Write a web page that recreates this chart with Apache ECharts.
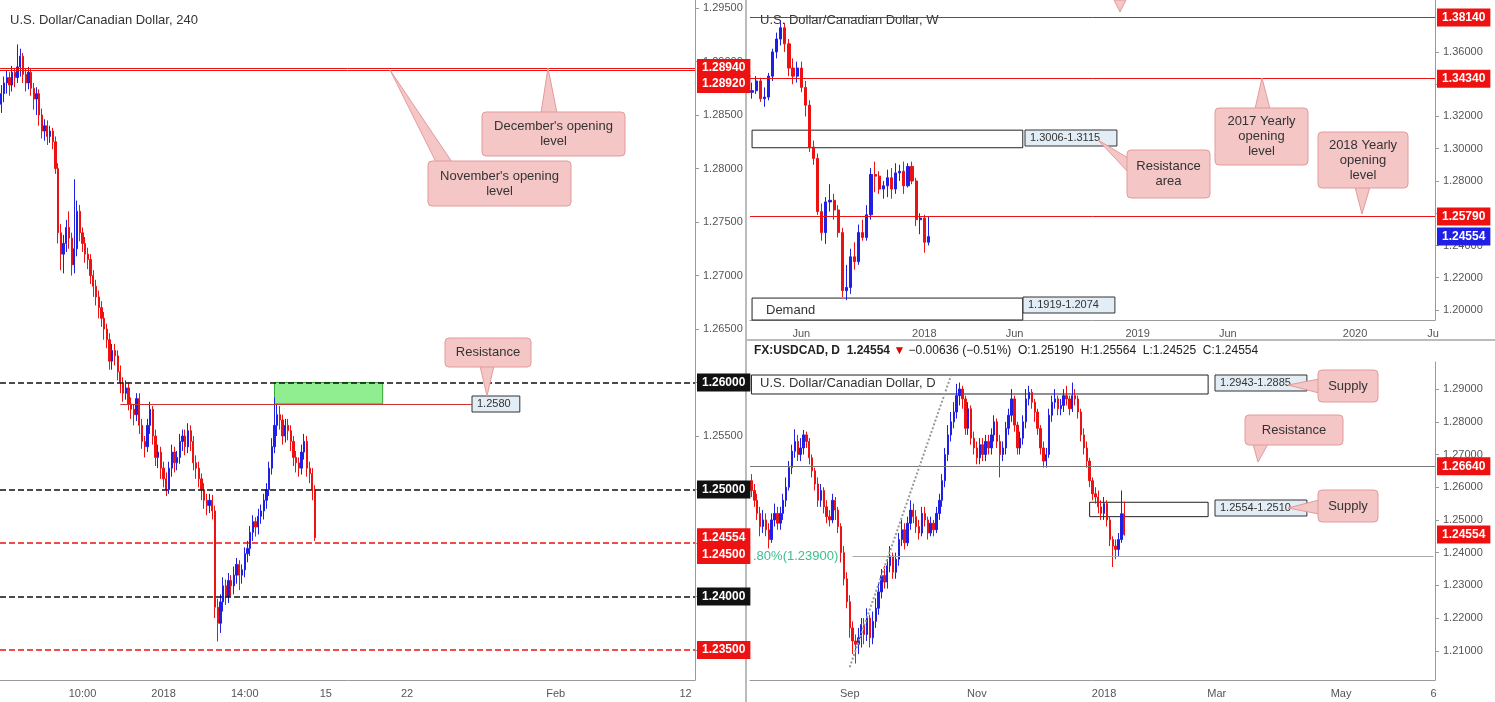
<!DOCTYPE html>
<html>
<head>
<meta charset="utf-8">
<script src="https://cdn.jsdelivr.net/npm/echarts@6/dist/echarts.min.js"></script>
<style>
  html, body { margin: 0; padding: 0; background: #fff; }
  #chart { width: 1495px; height: 702px; }
</style>
</head>
<body>
<div id="chart"></div>
<script>
// 4h candles [open, close, low, high], Dec 18 2017 .. Jan 12 2018
var h4Candles = [
  [1.2860,1.2870,1.2852,1.2878],[1.2870,1.2880,1.2862,1.2886],[1.2880,1.2885,1.2870,1.2892],[1.2885,1.2878,1.2868,1.2890],[1.2878,1.2890,1.2872,1.2896],[1.2890,1.2885,1.2876,1.2894],
  [1.2885,1.2895,1.2880,1.2916],[1.2895,1.2905,1.2886,1.2912],[1.2905,1.2888,1.2880,1.2908],[1.2888,1.2880,1.2872,1.2893],[1.2880,1.2890,1.2874,1.2895],[1.2890,1.2875,1.2868,1.2894],
  [1.2875,1.2865,1.2855,1.2880],[1.2865,1.2870,1.2850,1.2876],[1.2870,1.2850,1.2840,1.2874],[1.2850,1.2835,1.2828,1.2856],[1.2835,1.2840,1.2826,1.2846],[1.2840,1.2830,1.2822,1.2845],
  [1.2830,1.2835,1.2824,1.2840],[1.2835,1.2825,1.2818,1.2838],[1.2825,1.2800,1.2795,1.2830],[1.2800,1.2740,1.2730,1.2805],[1.2740,1.2720,1.2705,1.2748],[1.2720,1.2730,1.2702,1.2738],
  [1.2730,1.2745,1.2722,1.2752],[1.2745,1.2735,1.2725,1.2760],[1.2735,1.2710,1.2700,1.2740],[1.2710,1.2725,1.2702,1.2790],[1.2725,1.2760,1.2718,1.2770],[1.2760,1.2740,1.2732,1.2766],
  [1.2740,1.2730,1.2722,1.2745],[1.2730,1.2720,1.2712,1.2736],[1.2720,1.2715,1.2706,1.2726],[1.2715,1.2700,1.2692,1.2720],[1.2700,1.2690,1.2680,1.2705],[1.2690,1.2680,1.2672,1.2696],
  [1.2680,1.2670,1.2660,1.2686],[1.2670,1.2660,1.2652,1.2676],[1.2660,1.2650,1.2640,1.2666],[1.2650,1.2640,1.2632,1.2655],[1.2640,1.2620,1.2612,1.2646],[1.2620,1.2630,1.2612,1.2636],
  [1.2630,1.2625,1.2616,1.2636],[1.2625,1.2610,1.2602,1.2630],[1.2610,1.2600,1.2590,1.2616],[1.2600,1.2590,1.2582,1.2605],[1.2590,1.2595,1.2584,1.2602],[1.2595,1.2580,1.2574,1.2600],
  [1.2580,1.2575,1.2566,1.2586],[1.2575,1.2570,1.2560,1.2580],[1.2570,1.2585,1.2564,1.2590],[1.2585,1.2560,1.2552,1.2590],[1.2560,1.2545,1.2538,1.2566],[1.2545,1.2540,1.2530,1.2550],
  [1.2540,1.2560,1.2535,1.2566],[1.2560,1.2575,1.2552,1.2582],[1.2575,1.2550,1.2542,1.2578],[1.2550,1.2530,1.2522,1.2556],[1.2530,1.2535,1.2520,1.2542],[1.2535,1.2520,1.2510,1.2540],
  [1.2520,1.2510,1.2502,1.2526],[1.2510,1.2500,1.2494,1.2516],[1.2500,1.2520,1.2496,1.2526],[1.2520,1.2535,1.2512,1.2542],[1.2535,1.2525,1.2516,1.2540],[1.2525,1.2530,1.2518,1.2536],
  [1.2530,1.2545,1.2524,1.2552],[1.2545,1.2550,1.2536,1.2556],[1.2550,1.2540,1.2532,1.2556],[1.2540,1.2555,1.2534,1.2562],[1.2555,1.2545,1.2536,1.2560],[1.2545,1.2525,1.2518,1.2550],
  [1.2525,1.2520,1.2510,1.2532],[1.2520,1.2510,1.2502,1.2526],[1.2510,1.2500,1.2490,1.2515],[1.2500,1.2490,1.2482,1.2506],[1.2490,1.2485,1.2476,1.2496],[1.2485,1.2490,1.2478,1.2496],
  [1.2490,1.2480,1.2472,1.2495],[1.2480,1.2390,1.2380,1.2485],[1.2390,1.2375,1.2358,1.2398],[1.2375,1.2395,1.2366,1.2402],[1.2395,1.2410,1.2386,1.2418],[1.2410,1.2400,1.2392,1.2416],
  [1.2400,1.2415,1.2394,1.2422],[1.2415,1.2410,1.2400,1.2420],[1.2410,1.2420,1.2402,1.2428],[1.2420,1.2430,1.2412,1.2436],[1.2430,1.2420,1.2406,1.2434],[1.2420,1.2425,1.2412,1.2430],
  [1.2425,1.2440,1.2418,1.2446],[1.2440,1.2445,1.2432,1.2452],[1.2445,1.2460,1.2438,1.2466],[1.2460,1.2470,1.2452,1.2476],[1.2470,1.2465,1.2456,1.2474],[1.2465,1.2475,1.2458,1.2482],
  [1.2475,1.2480,1.2468,1.2486],[1.2480,1.2490,1.2472,1.2496],[1.2490,1.2500,1.2482,1.2506],[1.2500,1.2520,1.2494,1.2526],[1.2520,1.2540,1.2514,1.2548],[1.2540,1.2560,1.2534,1.2586],
  [1.2560,1.2570,1.2550,1.2580],[1.2570,1.2565,1.2556,1.2578],[1.2565,1.2550,1.2542,1.2570],[1.2550,1.2560,1.2544,1.2566],[1.2560,1.2555,1.2546,1.2566],[1.2555,1.2545,1.2536,1.2560],
  [1.2545,1.2530,1.2522,1.2550],[1.2530,1.2525,1.2516,1.2536],[1.2525,1.2520,1.2512,1.2530],[1.2520,1.2535,1.2514,1.2542],[1.2535,1.2545,1.2528,1.2552],[1.2545,1.2520,1.2512,1.2550],
  [1.2520,1.2515,1.2506,1.2526],[1.2515,1.2500,1.2490,1.2520],[1.2500,1.2455,1.2452,1.2504]
];
var h4Count = 257;
var h4Ticks = { 30: '10:00', 60: '2018', 90: '14:00', 120: '15', 150: '22', 205: 'Feb', 253: '12' };
var h4YTicks = [1.235, 1.24, 1.245, 1.25, 1.255, 1.26, 1.265, 1.27, 1.275, 1.28, 1.285, 1.29, 1.295];

// weekly candles [open, close, low, high], from Mar 13 2017
var weekCandles = [
  [1.3350,1.3360,1.3310,1.3410],[1.3360,1.3420,1.3340,1.3450],[1.3420,1.3310,1.3290,1.3440],[1.3310,1.3320,1.3260,1.3380],
  [1.3320,1.3450,1.3300,1.3470],[1.3450,1.3600,1.3420,1.3620],[1.3600,1.3680,1.3560,1.3720],[1.3680,1.3750,1.3640,1.3793],
  [1.3750,1.3650,1.3600,1.3780],[1.3650,1.3500,1.3450,1.3680],[1.3500,1.3450,1.3400,1.3560],[1.3450,1.3500,1.3410,1.3540],
  [1.3500,1.3380,1.3350,1.3540],[1.3380,1.3270,1.3200,1.3420],[1.3270,1.3010,1.2980,1.3300],[1.3010,1.2940,1.2900,1.3050],
  [1.2940,1.2610,1.2590,1.2970],[1.2610,1.2480,1.2430,1.2660],[1.2480,1.2670,1.2410,1.2700],[1.2670,1.2680,1.2610,1.2780],
  [1.2680,1.2620,1.2560,1.2720],[1.2620,1.2480,1.2450,1.2650],[1.2480,1.2120,1.2080,1.2510],[1.2120,1.2140,1.2061,1.2280],
  [1.2140,1.2330,1.2100,1.2380],[1.2330,1.2300,1.2250,1.2420],[1.2300,1.2480,1.2280,1.2530],[1.2480,1.2450,1.2430,1.2560],
  [1.2450,1.2590,1.2430,1.2650],[1.2590,1.2840,1.2560,1.2880],[1.2840,1.2830,1.2730,1.2920],[1.2830,1.2750,1.2720,1.2860],
  [1.2750,1.2770,1.2690,1.2800],[1.2770,1.2820,1.2700,1.2870],[1.2820,1.2750,1.2690,1.2880],[1.2750,1.2850,1.2720,1.2910],
  [1.2850,1.2860,1.2800,1.2900],[1.2860,1.2770,1.2720,1.2920],[1.2770,1.2890,1.2760,1.2910],[1.2890,1.2800,1.2780,1.2920],
  [1.2800,1.2560,1.2520,1.2820],[1.2560,1.2570,1.2470,1.2600],[1.2570,1.2420,1.2355,1.2590],[1.2420,1.2455,1.2400,1.2580]
];
var weekCount = 167;
var weekTicks = { 12: 'Jun', 42: '2018', 64: 'Jun', 94: '2019', 116: 'Jun', 147: '2020', 166: 'Ju' };
var weekYTicks = [1.20, 1.22, 1.24, 1.26, 1.28, 1.30, 1.32, 1.34, 1.36];

// daily closes / highs / lows, from mid Jul 2017 to Jan 12 2018
var dayFirstOpen = 1.2620;
var dayClose = [1.2590,1.2560,1.2520,1.2480,1.2500,1.2470,1.2440,1.2500,1.2520,1.2490,1.2520,1.2560,1.2600,1.2660,1.2710,1.2740,1.2700,1.2720,1.2760,1.2740,
  1.2690,1.2650,1.2610,1.2560,1.2590,1.2540,1.2510,1.2500,1.2560,1.2530,1.2480,1.2400,1.2320,1.2250,1.2170,1.2130,1.2120,1.2140,1.2180,1.2150,
  1.2200,1.2140,1.2190,1.2230,1.2280,1.2330,1.2310,1.2360,1.2390,1.2340,1.2380,1.2440,1.2470,1.2430,1.2490,1.2530,1.2510,1.2480,1.2460,1.2520,
  1.2500,1.2460,1.2490,1.2470,1.2520,1.2560,1.2620,1.2700,1.2760,1.2800,1.2830,1.2880,1.2900,1.2870,1.2780,1.2840,1.2750,1.2720,1.2690,1.2730,
  1.2700,1.2740,1.2720,1.2760,1.2800,1.2740,1.2700,1.2720,1.2780,1.2820,1.2870,1.2790,1.2720,1.2750,1.2800,1.2870,1.2890,1.2860,1.2830,1.2780,
  1.2720,1.2680,1.2700,1.2820,1.2860,1.2870,1.2840,1.2850,1.2880,1.2870,1.2840,1.2880,1.2870,1.2830,1.2760,1.2720,1.2680,1.2620,1.2580,1.2570,
  1.2540,1.2520,1.2550,1.2500,1.2440,1.2420,1.2410,1.2440,1.2519,1.2455];
var dayHigh = [1.2640,1.2610,1.2580,1.2540,1.2530,1.2520,1.2490,1.2520,1.2550,1.2540,1.2540,1.2580,1.2630,1.2680,1.2730,1.2777,1.2760,1.2750,1.2775,1.2770,
  1.2750,1.2700,1.2660,1.2630,1.2610,1.2600,1.2560,1.2530,1.2580,1.2570,1.2540,1.2490,1.2420,1.2340,1.2270,1.2190,1.2150,1.2170,1.2200,1.2200,
  1.2230,1.2210,1.2220,1.2260,1.2310,1.2350,1.2360,1.2380,1.2420,1.2400,1.2400,1.2460,1.2500,1.2490,1.2510,1.2560,1.2550,1.2530,1.2500,1.2540,
  1.2540,1.2510,1.2510,1.2500,1.2540,1.2580,1.2640,1.2720,1.2790,1.2830,1.2860,1.2916,1.2920,1.2910,1.2880,1.2860,1.2850,1.2770,1.2740,1.2750,
  1.2750,1.2760,1.2760,1.2780,1.2820,1.2810,1.2760,1.2740,1.2800,1.2840,1.2900,1.2880,1.2800,1.2770,1.2820,1.2900,1.2910,1.2900,1.2870,1.2840,
  1.2790,1.2740,1.2720,1.2840,1.2880,1.2900,1.2880,1.2870,1.2900,1.2910,1.2880,1.2920,1.2900,1.2880,1.2840,1.2780,1.2740,1.2690,1.2630,1.2600,
  1.2590,1.2560,1.2570,1.2560,1.2510,1.2450,1.2440,1.2460,1.2590,1.2556];
var dayLow = [1.2570,1.2540,1.2500,1.2450,1.2460,1.2450,1.2413,1.2430,1.2480,1.2470,1.2470,1.2500,1.2540,1.2590,1.2640,1.2690,1.2680,1.2680,1.2700,1.2720,
  1.2670,1.2630,1.2590,1.2540,1.2540,1.2520,1.2490,1.2480,1.2490,1.2500,1.2460,1.2370,1.2300,1.2230,1.2140,1.2090,1.2061,1.2090,1.2110,1.2120,
  1.2130,1.2110,1.2120,1.2170,1.2210,1.2260,1.2290,1.2290,1.2340,1.2320,1.2320,1.2360,1.2420,1.2410,1.2420,1.2470,1.2490,1.2460,1.2440,1.2450,
  1.2480,1.2440,1.2450,1.2450,1.2460,1.2500,1.2540,1.2600,1.2680,1.2740,1.2780,1.2810,1.2850,1.2840,1.2760,1.2760,1.2730,1.2700,1.2670,1.2670,
  1.2680,1.2680,1.2700,1.2700,1.2740,1.2720,1.2630,1.2680,1.2700,1.2760,1.2800,1.2770,1.2700,1.2700,1.2730,1.2780,1.2850,1.2840,1.2800,1.2760,
  1.2700,1.2660,1.2660,1.2690,1.2800,1.2840,1.2820,1.2820,1.2830,1.2850,1.2820,1.2830,1.2850,1.2810,1.2740,1.2700,1.2660,1.2600,1.2560,1.2550,
  1.2520,1.2500,1.2500,1.2480,1.2420,1.2356,1.2380,1.2390,1.2430,1.2452];
var dayCount = 237;
var dayTicks = { 34: 'Sep', 78: 'Nov', 122: '2018', 161: 'Mar', 204: 'May', 236: '6' };
var dayYTicks = [1.21, 1.22, 1.23, 1.24, 1.25, 1.26, 1.27, 1.28, 1.29];

var UP = '#1f1fe6', DOWN = '#ee1111', FONT = 'Liberation Sans';

function cats(n) {
  var a = [];
  for (var i = 0; i < n; i++) a.push(String(i));
  return a;
}

function dailyCandles() {
  var out = [];
  for (var i = 0; i < dayClose.length; i++) {
    var o = i === 0 ? dayFirstOpen : dayClose[i - 1];
    out.push([o, dayClose[i], dayLow[i], dayHigh[i]]);
  }
  return out;
}

function xAxisFor(grid, n, ticks) {
  return {
    type: 'category', gridIndex: grid, data: cats(n), boundaryGap: true,
    axisLine: { lineStyle: { color: '#999' } },
    axisTick: { show: false },
    splitLine: { show: false },
    axisLabel: {
      color: '#555', fontFamily: FONT, fontSize: 11, margin: 8,
      interval: function (i) { return ticks[i] !== undefined; },
      formatter: function (v, i) { return ticks[i] || ''; }
    }
  };
}

function yAxisFor(grid, min, max, ticks, digits) {
  return {
    type: 'value', gridIndex: grid, position: 'right', min: min, max: max, scale: true,
    axisLine: { show: true, lineStyle: { color: '#999' } },
    axisTick: { show: true, customValues: ticks, length: 4, lineStyle: { color: '#999' } },
    splitLine: { show: false },
    axisLabel: {
      customValues: ticks, color: '#555', fontFamily: FONT, fontSize: 11, margin: 8,
      formatter: function (v) { return v.toFixed(digits); }
    }
  };
}

function level(price, text, color, bg, type, width, shift) {
  return {
    yAxis: price,
    lineStyle: { color: color, type: type || 'solid', width: width || 1 },
    label: {
      show: true, position: 'end', formatter: text, color: '#fff', backgroundColor: bg,
      padding: [3, 5], fontFamily: FONT, fontWeight: 'bold', fontSize: 12, distance: 2,
      offset: [0, shift || 0]
    }
  };
}

function callout(x, y, w, h, lines, tip, base) {
  return [
    { type: 'polygon', z: 100, shape: { points: [base[0], base[1], tip] },
      style: { fill: '#f4c6c6', stroke: '#e49a9a', lineWidth: 1 } },
    { type: 'rect', z: 101, shape: { x: x, y: y, width: w, height: h, r: 4 },
      style: { fill: '#f4c6c6', stroke: '#e49a9a', lineWidth: 1 } },
    { type: 'text', z: 102, x: x + w / 2, y: y + h / 2,
      style: { text: lines, fill: '#333', font: '13px ' + FONT, align: 'center', verticalAlign: 'middle', lineHeight: 15 } }
  ];
}

function tagBox(x, y, text) {
  return [
    { type: 'rect', z: 90, shape: { x: x, y: y - 8, width: text.length * 6.3 + 10, height: 16 },
      style: { fill: '#e3edf5', stroke: '#333', lineWidth: 1 } },
    { type: 'text', z: 91, x: x + 5, y: y,
      style: { text: text, fill: '#333', font: '11px ' + FONT, verticalAlign: 'middle' } }
  ];
}

var candleStyle = { color: UP, color0: DOWN, borderColor: UP, borderColor0: DOWN, borderWidth: 1 };

var graphics = [].concat(
  [
    { type: 'line', shape: { x1: 746, y1: 0, x2: 746, y2: 702 }, style: { stroke: '#bbb', lineWidth: 2 } },
    { type: 'line', shape: { x1: 746, y1: 340, x2: 1495, y2: 340 }, style: { stroke: '#bbb', lineWidth: 2 } },
    { type: 'rect', shape: { x: 748, y: 341, width: 747, height: 19 }, style: { fill: '#fff' } },
    { type: 'text', x: 10, y: 20, style: { text: 'U.S. Dollar/Canadian Dollar, 240', fill: '#333', font: '13px ' + FONT, verticalAlign: 'middle' } },
    { type: 'text', x: 760, y: 20, style: { text: 'U.S. Dollar/Canadian Dollar, W', fill: '#333', font: '13px ' + FONT, verticalAlign: 'middle' } },
    { type: 'text', x: 760, y: 383, z: 95, style: { text: 'U.S. Dollar/Canadian Dollar, D', fill: '#333', font: '13px ' + FONT, verticalAlign: 'middle' } },
    { type: 'text', x: 754, y: 351, style: {
      rich: {
        b: { fill: '#222', font: 'bold 12px ' + FONT },
        r: { fill: '#d00', font: '12px ' + FONT },
        n: { fill: '#222', font: '12px ' + FONT }
      },
      text: '{b|FX:USDCAD, D  1.24554 }{r|▼}{n| −0.00636 (−0.51%)  O:1.25190  H:1.25564  L:1.24525  C:1.24554}',
      verticalAlign: 'middle' } },
    { type: 'polygon', shape: { points: [[1114, 0], [1126, 0], [1120, 12]] }, style: { fill: '#f4c6c6', stroke: '#e49a9a' } },
    { type: 'text', x: 766, y: 310, z: 95, style: { text: 'Demand', fill: '#333', font: '13px ' + FONT, verticalAlign: 'middle' } },
    { type: 'text', x: 753, y: 556, z: 95, style: { text: '.80%(1.23900)', fill: '#3cbf8c', font: '13px ' + FONT, verticalAlign: 'middle' } }
  ],
  tagBox(472, 404, '1.2580'),
  tagBox(1025, 138, '1.3006-1.3115'),
  tagBox(1023, 305, '1.1919-1.2074'),
  tagBox(1215, 383, '1.2943-1.2885'),
  tagBox(1215, 508, '1.2554-1.2510'),
  callout(445, 338, 86, 29, 'Resistance', [487, 396], [[480, 366], [494, 366]]),
  callout(482, 112, 143, 44, "December's opening\nlevel", [548, 68], [[541, 113], [557, 113]]),
  callout(428, 161, 143, 45, "November's opening\nlevel", [390, 70], [[436, 162], [452, 162]]),
  callout(1127, 150, 83, 48, 'Resistance\narea', [1098, 140], [[1128, 158], [1128, 172]]),
  callout(1215, 108, 93, 57, '2017 Yearly\nopening\nlevel', [1262, 78], [[1255, 109], [1270, 109]]),
  callout(1318, 132, 90, 56, '2018 Yearly\nopening\nlevel', [1362, 214], [[1355, 187], [1370, 187]]),
  callout(1318, 370, 60, 32, 'Supply', [1288, 385], [[1319, 379], [1319, 393]]),
  callout(1245, 415, 98, 30, 'Resistance', [1258, 462], [[1253, 444], [1268, 444]]),
  callout(1318, 490, 60, 32, 'Supply', [1288, 508], [[1319, 500], [1319, 514]])
);

var option = {
  animation: false,
  backgroundColor: '#fff',
  grid: [
    { left: 0, right: 800, top: 0, bottom: 22 },
    { left: 750, right: 60, top: 0, bottom: 382 },
    { left: 750, right: 60, top: 362, bottom: 22 }
  ],
  xAxis: [
    xAxisFor(0, h4Count, h4Ticks),
    xAxisFor(1, weekCount, weekTicks),
    xAxisFor(2, dayCount, dayTicks)
  ],
  yAxis: [
    yAxisFor(0, 1.2322, 1.29575, h4YTicks, 5),
    yAxisFor(1, 1.1938, 1.3922, weekYTicks, 5),
    yAxisFor(2, 1.20107, 1.29828, dayYTicks, 5)
  ],
  series: [
    {
      type: 'candlestick', xAxisIndex: 0, yAxisIndex: 0, data: h4Candles, barWidth: '65%',
      itemStyle: candleStyle,
      markLine: {
        symbol: 'none', silent: true, precision: 5,
        data: [
          level(1.2894, '1.28940', '#ee1111', '#ee1111', 'solid', 1, 0),
          level(1.2892, '1.28920', '#ee1111', '#ee1111', 'solid', 1, 14),
          level(1.2600, '1.26000', '#111', '#111', 'dashed', 1.5),
          level(1.2500, '1.25000', '#111', '#111', 'dashed', 1.5),
          level(1.24554, '1.24554', 'rgba(0,0,0,0)', '#ee1111'),
          level(1.2450, '1.24500', '#ee1111', '#ee1111', 'dashed', 1.5, 12),
          level(1.2400, '1.24000', '#111', '#111', 'dashed', 1.5),
          level(1.2350, '1.23500', '#ee1111', '#ee1111', 'dashed', 1.5),
          [{ coord: ['44', 1.258], lineStyle: { color: '#c33', width: 1, type: 'solid' }, label: { show: false } },
           { coord: ['174', 1.258] }]
        ]
      },
      markArea: {
        silent: true,
        data: [[{ coord: ['101', 1.2580], itemStyle: { color: '#90ee90', borderColor: '#3a3', borderWidth: 1 } },
                { coord: ['141', 1.2600] }]]
      }
    },
    {
      type: 'candlestick', xAxisIndex: 1, yAxisIndex: 1, data: weekCandles, barWidth: '65%',
      itemStyle: candleStyle,
      markLine: {
        symbol: 'none', silent: true, precision: 5,
        data: [
          level(1.3814, '1.38140', '#ee1111', '#ee1111'),
          level(1.3434, '1.34340', '#ee1111', '#ee1111'),
          level(1.2579, '1.25790', '#ee1111', '#ee1111'),
          level(1.24554, '1.24554', 'rgba(0,0,0,0)', '#1f1fe6')
        ]
      },
      markArea: {
        silent: true,
        itemStyle: { color: 'rgba(255,255,255,0)', borderColor: '#222', borderWidth: 1 },
        data: [
          [{ coord: ['0', 1.3006] }, { coord: ['66', 1.3115] }],
          [{ coord: ['0', 1.1919] }, { coord: ['66', 1.2074] }]
        ]
      }
    },
    {
      type: 'candlestick', xAxisIndex: 2, yAxisIndex: 2, data: dailyCandles(), barWidth: '65%',
      itemStyle: candleStyle,
      markLine: {
        symbol: 'none', silent: true, precision: 5,
        data: [
          level(1.2664, '1.26640', '#777', '#ee1111'),
          level(1.24554, '1.24554', 'rgba(0,0,0,0)', '#ee1111'),
          [{ coord: ['35', 1.2390], lineStyle: { color: '#aaa', width: 1, type: 'solid' }, label: { show: false } },
           { coord: ['236', 1.2390] }],
          [{ coord: ['34', 1.2050], lineStyle: { color: '#999', width: 2, type: 'dotted' }, label: { show: false } },
           { coord: ['69', 1.2940] }]
        ]
      },
      markArea: {
        silent: true,
        itemStyle: { color: 'rgba(255,255,255,0)', borderColor: '#222', borderWidth: 1 },
        data: [
          [{ coord: ['0', 1.2885] }, { coord: ['158', 1.2943] }],
          [{ coord: ['117', 1.2510] }, { coord: ['158', 1.2554] }]
        ]
      }
    }
  ],
  graphic: graphics
};

var chart = echarts.init(document.getElementById('chart'));
chart.setOption(option);
</script>
</body>
</html>
